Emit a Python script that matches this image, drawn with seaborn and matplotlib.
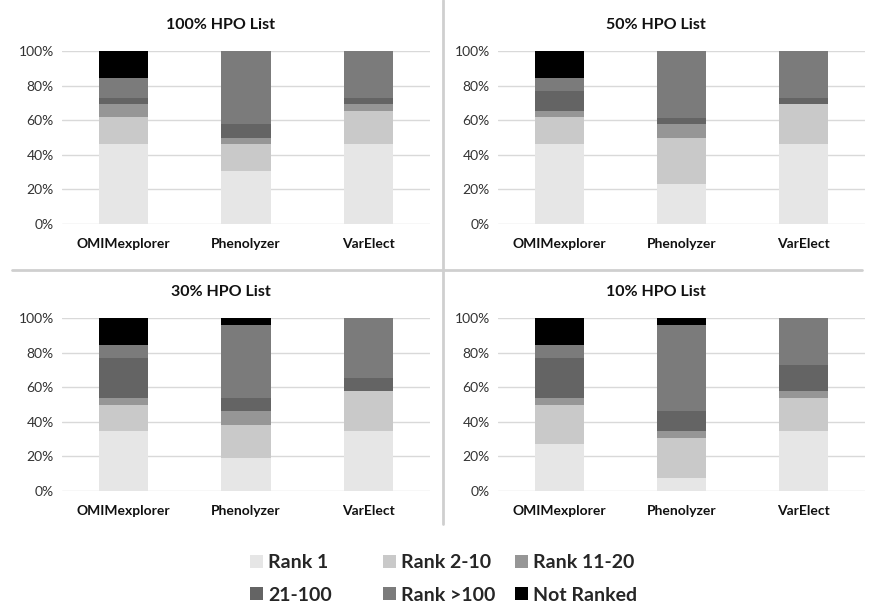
import numpy as np
import pandas as pd
import matplotlib
matplotlib.use("Agg")
import matplotlib.pyplot as plt
from matplotlib.lines import Line2D
from matplotlib.patches import Patch
import seaborn as sns

sns.set_theme(style="white")
plt.rcParams['font.family'] = ['Lato', 'DejaVu Sans']

tools = ["OMIMexplorer", "Phenolyzer", "VarElect"]
panel_titles = ["100% HPO List", "50% HPO List", "30% HPO List", "10% HPO List"]
rank_labels = ["Rank 1", "Rank 2-10", "Rank 11-20", "21-100", "Rank >100", "Not Ranked"]
rank_colors = ["#e6e6e6", "#c9c9c9", "#969696", "#646464", "#7b7b7b", "#000000"]
ytick_vals = [0, 20, 40, 60, 80, 100]
ytick_labels = ["0%", "20%", "40%", "60%", "80%", "100%"]

# percentages per rank class, order = tools
p100_rank1 = [46.2, 30.8, 46.2]
p100_rank2_10 = [15.4, 15.4, 19.2]
p100_rank11_20 = [7.7, 3.8, 3.8]
p100_21_100 = [3.8, 7.7, 3.8]
p100_gt100 = [11.5, 42.3, 26.9]
p100_notranked = [15.4, 0.0, 0.0]

p50_rank1 = [46.2, 23.1, 46.2]
p50_rank2_10 = [15.4, 26.9, 23.1]
p50_rank11_20 = [3.8, 7.7, 0.0]
p50_21_100 = [11.5, 3.8, 3.8]
p50_gt100 = [7.7, 38.5, 26.9]
p50_notranked = [15.4, 0.0, 0.0]

p30_rank1 = [34.6, 19.2, 34.6]
p30_rank2_10 = [15.4, 19.2, 23.1]
p30_rank11_20 = [3.8, 7.7, 0.0]
p30_21_100 = [23.1, 7.7, 7.7]
p30_gt100 = [7.7, 42.3, 34.6]
p30_notranked = [15.4, 3.8, 0.0]

p10_rank1 = [26.9, 7.7, 34.6]
p10_rank2_10 = [23.1, 23.1, 19.2]
p10_rank11_20 = [3.8, 3.8, 3.8]
p10_21_100 = [23.1, 11.5, 15.4]
p10_gt100 = [7.7, 50.0, 26.9]
p10_notranked = [15.4, 3.8, 0.0]

panels = [
    [p100_rank1, p100_rank2_10, p100_rank11_20, p100_21_100, p100_gt100, p100_notranked],
    [p50_rank1, p50_rank2_10, p50_rank11_20, p50_21_100, p50_gt100, p50_notranked],
    [p30_rank1, p30_rank2_10, p30_rank11_20, p30_21_100, p30_gt100, p30_notranked],
    [p10_rank1, p10_rank2_10, p10_rank11_20, p10_21_100, p10_gt100, p10_notranked],
]

W, H = 870, 606
fig = plt.figure(figsize=(W / 100, H / 100), dpi=100)

# axes rectangles in pixels: left, y(0%), right, y(100%)
rects_px = [
    (62, 224, 430, 51),
    (498, 224, 865, 51),
    (62, 491, 430, 318),
    (498, 491, 865, 318),
]
title_px = [(221, 25), (656, 25), (221, 292), (656, 292)]

for (x0, y0, x1, y1), (tx, ty), title, series in zip(rects_px, title_px, panel_titles, panels):
    ax = fig.add_axes([x0 / W, 1 - y0 / H, (x1 - x0) / W, (y0 - y1) / H])
    arr = np.array(series)
    cum = np.cumsum(arr, axis=0)
    # draw from topmost layer down so stacked segments show
    for i in range(len(rank_labels) - 1, -1, -1):
        df = pd.DataFrame({"tool": tools, "value": cum[i]})
        sns.barplot(data=df, x="tool", y="value", order=tools, color=rank_colors[i],
                    width=0.4, saturation=1, ax=ax, errorbar=None,
                    edgecolor="none", linewidth=0)
    ax.set_ylim(0, 100)
    ax.set_xlim(-0.5, 2.5)
    ax.set_yticks(ytick_vals)
    ax.set_yticklabels(ytick_labels, fontsize=10, color="#333333")
    ax.set_xticks(range(len(tools)))
    ax.set_xticklabels(tools, fontsize=10, fontweight="bold", color="#111111")
    ax.tick_params(axis="y", length=0, pad=6)
    ax.tick_params(axis="x", length=0, pad=10)
    ax.set_xlabel("")
    ax.set_ylabel("")
    ax.yaxis.grid(True, color="#d9d9d9", linewidth=1)
    ax.set_axisbelow(True)
    for s in ax.spines.values():
        s.set_visible(False)
    fig.text(tx / W, 1 - ty / H, title, fontsize=11.5, fontweight="bold", color="#111111",
             ha="center", va="center")

# divider lines
fig.add_artist(Line2D([443 / W, 443 / W], [1, 1 - 524 / H], color="#cfcfcf", lw=2,
                      transform=fig.transFigure))
fig.add_artist(Line2D([12 / W, 862 / W], [1 - 270 / H, 1 - 270 / H], color="#cfcfcf", lw=2,
                      transform=fig.transFigure))

# legend: three fixed-position columns, two rows each
handles = [Patch(facecolor=c, edgecolor="none") for c in rank_colors]
col_x = [250, 383, 515]
for c, x in enumerate(col_x):
    idx = [c, c + 3]
    fig.legend([handles[i] for i in idx], [rank_labels[i] for i in idx],
               ncol=1, loc="center left", bbox_to_anchor=(x / W, 1 - 579 / H),
               frameon=False, borderpad=0, borderaxespad=0,
               prop={"size": 14, "weight": "bold"}, handlelength=0.65, handleheight=0.65,
               handletextpad=0.3, labelspacing=0.8)

fig.savefig("out.png", dpi=100)
